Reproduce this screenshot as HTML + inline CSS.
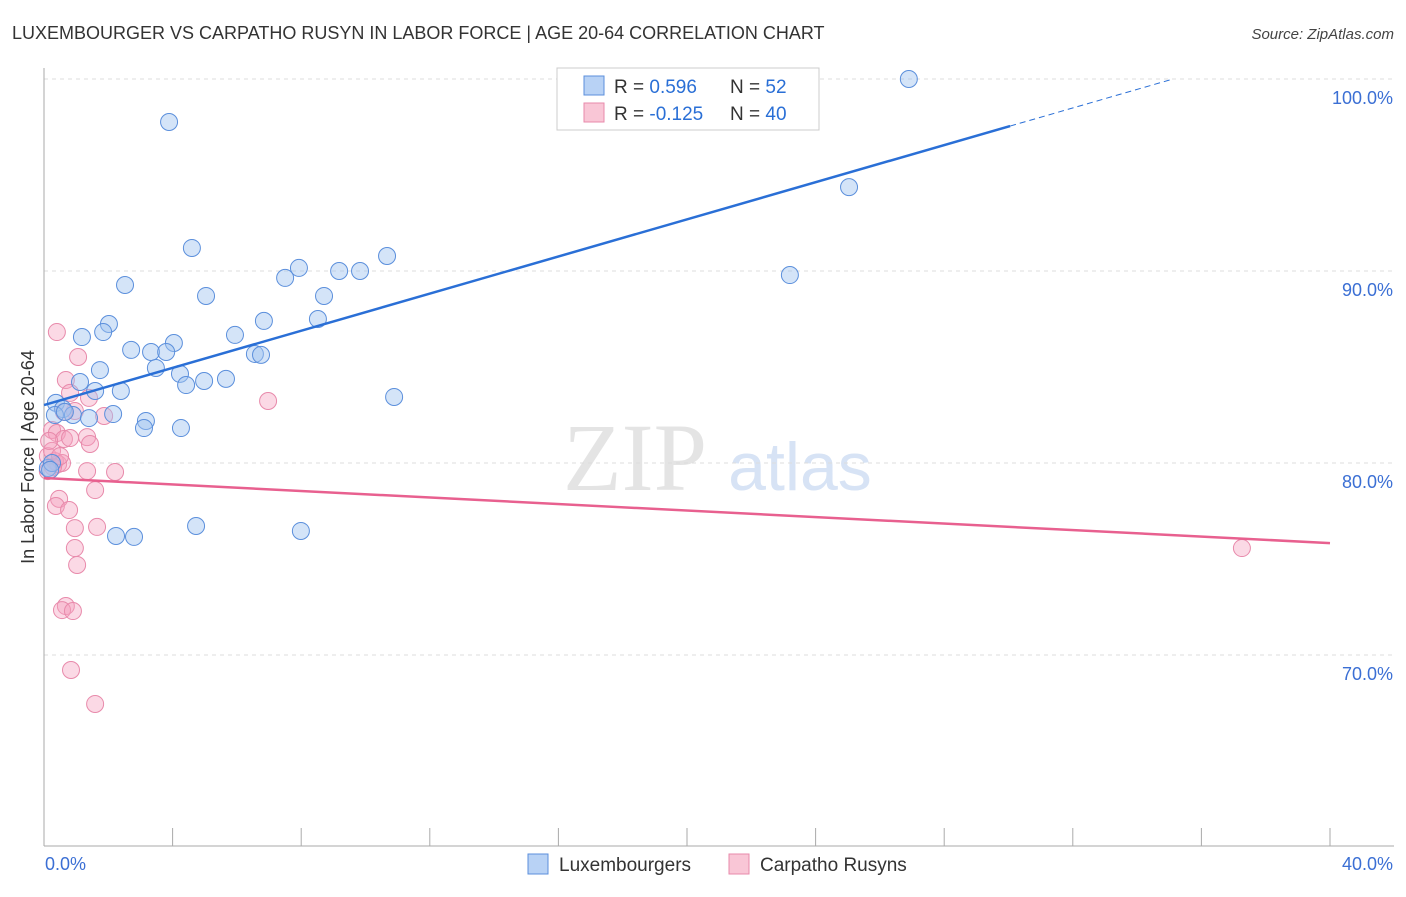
<!DOCTYPE html>
<html><head><meta charset="utf-8"><style>
body{margin:0;background:#fff;font-family:"Liberation Sans",sans-serif}
</style></head><body>
<svg id="c" width="1406" height="892" xmlns="http://www.w3.org/2000/svg" font-family="Liberation Sans, sans-serif"></svg>
<script>
const xTicks=[0,4,8,12,16,20,24,28,32,36,40];
const yTicks=[70,80,90,100];
const yTickLabels=["70.0%","80.0%","90.0%","100.0%"];
const luxX=[26.9,3.89,25.04,4.6,10.67,7.93,9.18,9.83,23.2,7.5,2.52,5.04,8.71,8.52,6.84,2.02,1.84,5.94,1.18,4.04,2.71,3.33,3.8,6.56,6.75,3.48,4.23,1.74,1.12,4.98,5.66,4.42,1.59,2.39,10.89,0.37,0.59,0.9,2.15,1.4,3.17,3.11,4.26,0.34,0.65,4.73,7.99,2.24,2.8,0.12,0.25,0.19];
const luxY=[100,97.76,94.37,91.2,90.78,90.16,90,90,89.79,89.64,89.27,88.7,88.7,87.5,87.4,87.24,86.82,86.67,86.56,86.25,85.89,85.78,85.78,85.68,85.63,84.95,84.64,84.84,84.22,84.27,84.38,84.06,83.75,83.75,83.44,83.13,82.81,82.5,82.55,82.34,82.19,81.82,81.82,82.5,82.66,76.72,76.46,76.2,76.15,79.74,80,79.64];
const carX=[0.4,1.06,0.68,0.81,1.4,1.87,0.96,0.25,0.4,0.62,0.81,1.34,1.43,0.12,0.34,0.44,0.56,0.28,0.12,1.34,2.21,6.97,1.59,0.47,0.37,0.78,1.65,0.96,0.96,1.03,0.68,0.56,0.9,0.84,1.59,37.26,0.25,0.5,0.16,0.62];
const carY=[86.82,85.52,84.32,83.65,83.39,82.45,82.71,81.72,81.56,81.25,81.3,81.35,80.99,80.36,80.1,79.95,80,79.79,79.58,79.58,79.53,83.23,78.59,78.13,77.76,77.55,76.67,76.61,75.57,74.69,72.55,72.34,72.29,69.22,67.45,75.57,80.63,80.36,81.15,82.66];
const lineLux=[83.02,0.4835];
const lineCar=[79.22,-0.0848];

const S=document.getElementById('c'),NS='http://www.w3.org/2000/svg';
const X=v=>44+v*32.15, Y=v=>79+(100-v)*19.2;
function el(t,a,p){const e=document.createElementNS(NS,t);for(const k in a)e.setAttribute(k,a[k]);(p||S).appendChild(e);return e;}
let t=el('text',{x:12,y:39,'font-size':18,fill:'#333'});t.textContent='LUXEMBOURGER VS CARPATHO RUSYN IN LABOR FORCE | AGE 20-64 CORRELATION CHART';

t=el('text',{x:1394,y:39,'font-size':15,fill:'#444','font-style':'italic','text-anchor':'end'});t.textContent='Source: ZipAtlas.com';

t=el('text',{x:635,y:490,'font-size':96,fill:'#e4e4e4','font-family':'Liberation Serif, serif','text-anchor':'middle'});t.textContent='ZIP';

t=el('text',{x:800,y:490,'font-size':68,fill:'#d7e3f5','text-anchor':'middle'});t.textContent='atlas';

yTicks.forEach((v,i)=>{const g=el('line',{x1:44,x2:1394,y1:Y(v),y2:Y(v),stroke:'#ddd','stroke-dasharray':'4,4'});

const l=el('text',{x:1393,y:Y(v)+25,'font-size':18,fill:'#3b6fd4','text-anchor':'end'});l.textContent=yTickLabels[i];
});
el('line',{x1:44,x2:44,y1:68,y2:846,stroke:'#aaa'});
el('line',{x1:44,x2:1394,y1:846,y2:846,stroke:'#aaa'});
xTicks.forEach(v=>{const k=el('line',{x1:X(v),x2:X(v),y1:828,y2:846,stroke:'#aaa'});
});
t=el('text',{x:45,y:870,'font-size':18,fill:'#3b6fd4'});t.textContent='0.0%';
t=el('text',{x:1393,y:870,'font-size':18,fill:'#3b6fd4','text-anchor':'end'});t.textContent='40.0%';
t=el('text',{transform:'translate(34,457) rotate(-90)','font-size':18,fill:'#333','text-anchor':'middle'});t.textContent='In Labor Force | Age 20-64';

carX.forEach((x,i)=>{const c=el('circle',{cx:X(x),cy:Y(carY[i]),r:8.5,fill:'rgba(246,160,190,0.4)',stroke:'#e88aab','stroke-width':1});
});
luxX.forEach((x,i)=>{const c=el('circle',{cx:X(x),cy:Y(luxY[i]),r:8.5,fill:'rgba(160,195,240,0.45)',stroke:'#5b8fdc','stroke-width':1});
});
const xe=30.05, xd=(100-lineLux[0])/lineLux[1];
let r=el('line',{x1:X(0),y1:Y(lineLux[0]),x2:X(xe),y2:Y(lineLux[0]+lineLux[1]*xe),stroke:'#2a6fd6','stroke-width':2.5});

r=el('line',{x1:X(xe),y1:Y(lineLux[0]+lineLux[1]*xe),x2:X(xd),y2:Y(100),stroke:'#2a6fd6','stroke-width':1,'stroke-dasharray':'6,4'});

r=el('line',{x1:X(0),y1:Y(lineCar[0]),x2:X(40),y2:Y(lineCar[0]+lineCar[1]*40),stroke:'#e8608f','stroke-width':2.5});

const g=el('g',{});
el('rect',{x:557,y:68,width:262,height:62,fill:'#fff',stroke:'#ccc'},g);
el('rect',{x:584,y:76,width:20,height:19,fill:'#b8d2f5',stroke:'#5b8fdc'},g);
el('rect',{x:584,y:103,width:20,height:19,fill:'#f9c6d6',stroke:'#e88aab'},g);
[[93,'0.596','52'],[120,'-0.125','40']].forEach(([y,rv,n])=>{
const a=el('text',{x:614,y:y,'font-size':19,fill:'#333'},g);a.innerHTML='R = <tspan fill="#2a6fd6">'+rv+'</tspan>';
const b=el('text',{x:730,y:y,'font-size':19,fill:'#333'},g);b.innerHTML='N = <tspan fill="#2a6fd6">'+n+'</tspan>';});
[[528,'#b8d2f5','#5b8fdc','Luxembourgers','legend-luxembourgers'],[729,'#f9c6d6','#e88aab','Carpatho Rusyns','legend-carpatho-rusyns']].forEach(([x,f,s,txt,nm])=>{
const gg=el('g',{});
el('rect',{x:x,y:854,width:20,height:20,fill:f,stroke:s},gg);
const l=el('text',{x:x+31,y:871,'font-size':19,fill:'#333'},gg);l.textContent=txt;});
</script>
</body></html>
